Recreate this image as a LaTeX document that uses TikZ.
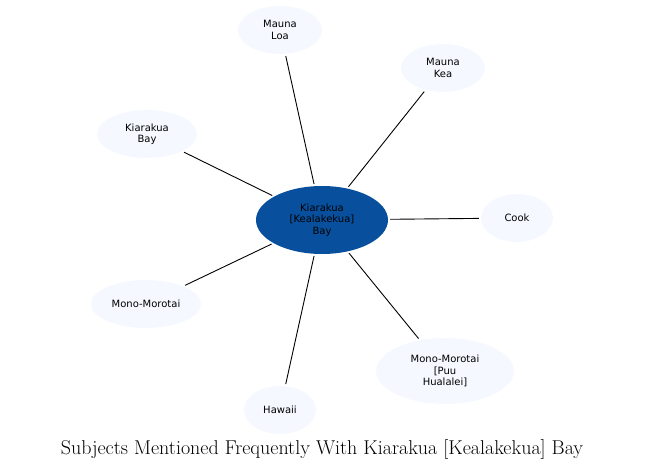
\documentclass[tikz,border=0pt]{standalone}
\usepackage{fontspec}
\newfontfamily\nodefont{DejaVu Sans}
\usetikzlibrary{shapes.geometric}
\definecolor{hub}{RGB}{8,80,158}
\definecolor{leaf}{RGB}{245,249,255}

\begin{document}
\begin{tikzpicture}[x=1pt, y=-1pt]
        % Define styles
        \tikzstyle{subject} = [ellipse, fill=leaf, inner sep=0pt, align=center, font=\nodefont\fontsize{10}{11.5}\selectfont]
        \tikzstyle{link} = [black, line width=0.9pt, shorten <=2pt, shorten >=2pt]

        \useasboundingbox (0,0) rectangle (645,470);

        % Hub
        \node[subject, fill=hub, minimum width=132, minimum height=68] (bay) at (322,220) {Kiarakua\\{[Kealakekua]}\\Bay};

        % Subjects
        \node[subject, minimum width=84, minimum height=48] (loa) at (280,30) {Mauna\\Loa};
        \node[subject, minimum width=84, minimum height=48] (kea) at (443,68) {Mauna\\Kea};
        \node[subject, minimum width=100, minimum height=48] (kbay) at (147,134) {Kiarakua\\Bay};
        \node[subject, minimum width=72, minimum height=48] (cook) at (517,218) {Cook};
        \node[subject, minimum width=110, minimum height=48] (mono) at (146,304) {Mono-Morotai};
        \node[subject, minimum width=138, minimum height=66] (puu) at (445,371) {Mono-Morotai\\{[Puu}\\Hualalei]};
        \node[subject, minimum width=72, minimum height=48] (hawaii) at (280,410) {Hawaii};

        % Connections
        \foreach \t in {loa, kea, kbay, cook, mono, puu, hawaii}
            \draw[link] (bay) -- (\t);

        % Title
        \node[font=\fontsize{20}{24}\selectfont] (title) at (322,449) {Subjects Mentioned Frequently With Kiarakua [Kealakekua] Bay};
    \end{tikzpicture}
\end{document}
